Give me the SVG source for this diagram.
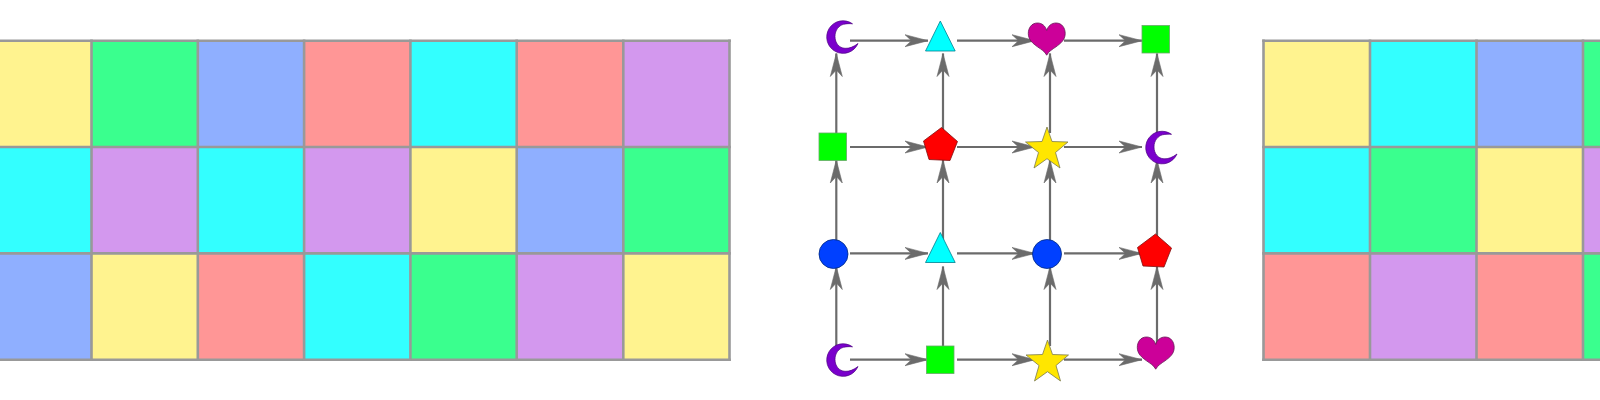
<svg xmlns="http://www.w3.org/2000/svg" width="1600" height="400" viewBox="0 0 1600 400">
<style>
.y{fill:#fff38f}.g{fill:#3aff8e}.b{fill:#8fafff}.r{fill:#ff9696}.c{fill:#33ffff}.p{fill:#d398ee}
.grid line{stroke:#999;stroke-width:2.6;stroke-linecap:square}
.conn line{stroke:#6b6b6b;stroke-width:2.2}
.moon{fill:#7a00cc;stroke:#4a0080;stroke-width:.7}
.tri{fill:#00ffff;stroke:#007f8f;stroke-width:.8}
.heart{fill:#cc0099;stroke:#661a55;stroke-width:.8}
.square{fill:#00ff00;stroke:#66aa66;stroke-width:.8}
.pent{fill:#ff0000;stroke:#801010;stroke-width:.8}
.star{fill:#ffe600;stroke:#7a7a50;stroke-width:.8}
.disc{fill:#0040ff;stroke:#002a80;stroke-width:.8}
</style>
<defs>
<marker id="ah" markerUnits="userSpaceOnUse" markerWidth="24" markerHeight="14" refX="23" refY="6.5" orient="auto" overflow="visible">
<path d="M0 0.5L23 6.5L0 12.5L6.5 6.5Z" fill="#6b6b6b" stroke="#6b6b6b" stroke-width=".6" stroke-linejoin="round"/>
</marker>
<path id="s-moon" class="moon" d="M852.5 23.8A16.3 16.3 0 1 0 858 43.5C853.5 47 849 48.6 845 48.3C839 48 835 43 835 36.5C835 30 839 25.5 843.5 24.3C846.5 23.6 849.5 23.5 852.5 23.8Z"/>
<path id="s-tri" class="tri" d="M940.3 21L955.2 51H925.5Z"/>
<path id="s-heart" class="heart" d="M1046.7 30.5C1045.5 26 1042 23 1037.5 23C1031.5 23 1028.3 28 1028.3 33.5C1028.3 40 1033 43.5 1037.5 46.8C1041 49.3 1045 51.5 1046.7 55.2C1048.5 51.5 1052.5 49.3 1056 46.8C1060.5 43.5 1065.2 40 1065.2 33.5C1065.2 28 1062 23 1056 23C1051.5 23 1048 26 1046.7 30.5Z"/>
<rect id="s-square" class="square" x="819" y="133" width="27.5" height="27.5"/>
<path id="s-pent" class="pent" d="M941.5 127.5L957.5 141.5L950 160.5L929 159.5L923.5 141Z"/>
<path id="s-star" class="star" d="M1047 127L1052 141.5L1068 142L1055.5 152.5L1060 168L1047 158.7L1034 168L1038.5 152.5L1025.5 142L1042 141.5Z"/>
<circle id="s-disc" class="disc" cx="833.5" cy="254" r="14.5"/>
</defs>
<g id="left-grid">
<rect class="y" x="-15" y="40.7" width="106.5" height="106.3"/><rect class="g" x="91.5" y="40.7" width="106.3" height="106.3"/><rect class="b" x="197.8" y="40.7" width="106.3" height="106.3"/><rect class="r" x="304.1" y="40.7" width="106.3" height="106.3"/><rect class="c" x="410.4" y="40.7" width="106.3" height="106.3"/><rect class="r" x="516.7" y="40.7" width="106.6" height="106.3"/><rect class="p" x="623.3" y="40.7" width="106.2" height="106.3"/>
<rect class="c" x="-15" y="147" width="106.5" height="106.4"/><rect class="p" x="91.5" y="147" width="106.3" height="106.4"/><rect class="c" x="197.8" y="147" width="106.3" height="106.4"/><rect class="p" x="304.1" y="147" width="106.3" height="106.4"/><rect class="y" x="410.4" y="147" width="106.3" height="106.4"/><rect class="b" x="516.7" y="147" width="106.6" height="106.4"/><rect class="g" x="623.3" y="147" width="106.2" height="106.4"/>
<rect class="b" x="-15" y="253.4" width="106.5" height="106.3"/><rect class="y" x="91.5" y="253.4" width="106.3" height="106.3"/><rect class="r" x="197.8" y="253.4" width="106.3" height="106.3"/><rect class="c" x="304.1" y="253.4" width="106.3" height="106.3"/><rect class="g" x="410.4" y="253.4" width="106.3" height="106.3"/><rect class="p" x="516.7" y="253.4" width="106.6" height="106.3"/><rect class="y" x="623.3" y="253.4" width="106.2" height="106.3"/>
<g class="grid">
<line x1="0" y1="40.7" x2="729.5" y2="40.7"/><line x1="0" y1="147" x2="729.5" y2="147"/><line x1="0" y1="253.4" x2="729.5" y2="253.4"/><line x1="0" y1="359.7" x2="729.5" y2="359.7"/>
<line x1="91.5" y1="40.7" x2="91.5" y2="359.7"/><line x1="197.8" y1="40.7" x2="197.8" y2="359.7"/><line x1="304.1" y1="40.7" x2="304.1" y2="359.7"/><line x1="410.4" y1="40.7" x2="410.4" y2="359.7"/><line x1="516.7" y1="40.7" x2="516.7" y2="359.7"/><line x1="623.3" y1="40.7" x2="623.3" y2="359.7"/><line x1="729.5" y1="40.7" x2="729.5" y2="359.7"/>
</g>
</g>
<g id="right-grid">
<rect class="y" x="1263.5" y="40.7" width="106.5" height="106.3"/><rect class="c" x="1370" y="40.7" width="106.5" height="106.3"/><rect class="b" x="1476.5" y="40.7" width="106.5" height="106.3"/><rect class="g" x="1583" y="40.7" width="17" height="106.3"/>
<rect class="c" x="1263.5" y="147" width="106.5" height="106.4"/><rect class="g" x="1370" y="147" width="106.5" height="106.4"/><rect class="y" x="1476.5" y="147" width="106.5" height="106.4"/><rect class="p" x="1583" y="147" width="17" height="106.4"/>
<rect class="r" x="1263.5" y="253.4" width="106.5" height="106.3"/><rect class="p" x="1370" y="253.4" width="106.5" height="106.3"/><rect class="r" x="1476.5" y="253.4" width="106.5" height="106.3"/><rect class="g" x="1583" y="253.4" width="17" height="106.3"/>
<g class="grid">
<line x1="1263.5" y1="40.7" x2="1600" y2="40.7"/><line x1="1263.5" y1="147" x2="1600" y2="147"/><line x1="1263.5" y1="253.4" x2="1600" y2="253.4"/><line x1="1263.5" y1="359.7" x2="1600" y2="359.7"/>
<line x1="1263.5" y1="40.7" x2="1263.5" y2="359.7"/><line x1="1370" y1="40.7" x2="1370" y2="359.7"/><line x1="1476.5" y1="40.7" x2="1476.5" y2="359.7"/><line x1="1583" y1="40.7" x2="1583" y2="359.7"/>
</g>
</g>
<g id="connectors" class="conn">
<line x1="850" y1="40.7" x2="928" y2="40.7" marker-end="url(#ah)"/><line x1="957" y1="40.7" x2="1035" y2="40.7" marker-end="url(#ah)"/><line x1="1064" y1="40.7" x2="1142" y2="40.7" marker-end="url(#ah)"/>
<line x1="850" y1="147" x2="928" y2="147" marker-end="url(#ah)"/><line x1="957" y1="147" x2="1035" y2="147" marker-end="url(#ah)"/><line x1="1064" y1="147" x2="1142" y2="147" marker-end="url(#ah)"/>
<line x1="850" y1="253.4" x2="928" y2="253.4" marker-end="url(#ah)"/><line x1="957" y1="253.4" x2="1035" y2="253.4" marker-end="url(#ah)"/><line x1="1064" y1="253.4" x2="1142" y2="253.4" marker-end="url(#ah)"/>
<line x1="850" y1="359.7" x2="928" y2="359.7" marker-end="url(#ah)"/><line x1="957" y1="359.7" x2="1035" y2="359.7" marker-end="url(#ah)"/><line x1="1064" y1="359.7" x2="1142" y2="359.7" marker-end="url(#ah)"/>
<line x1="836.3" y1="346" x2="836.3" y2="266.5" marker-end="url(#ah)"/><line x1="943" y1="346" x2="943" y2="266.5" marker-end="url(#ah)"/><line x1="1050" y1="346" x2="1050" y2="266.5" marker-end="url(#ah)"/><line x1="1157" y1="346" x2="1157" y2="266.5" marker-end="url(#ah)"/>
<line x1="836.3" y1="240" x2="836.3" y2="160" marker-end="url(#ah)"/><line x1="943" y1="240" x2="943" y2="160" marker-end="url(#ah)"/><line x1="1050" y1="240" x2="1050" y2="160" marker-end="url(#ah)"/><line x1="1157" y1="240" x2="1157" y2="160" marker-end="url(#ah)"/>
<line x1="836.3" y1="133" x2="836.3" y2="53.5" marker-end="url(#ah)"/><line x1="943" y1="133" x2="943" y2="53.5" marker-end="url(#ah)"/><line x1="1050" y1="133" x2="1050" y2="53.5" marker-end="url(#ah)"/><line x1="1157" y1="133" x2="1157" y2="53.5" marker-end="url(#ah)"/>
</g>
<g id="n-r1c1"><use href="#s-moon"/></g>
<g id="n-r1c2"><use href="#s-tri"/></g>
<g id="n-r1c3"><use href="#s-heart"/></g>
<g id="n-r1c4"><use href="#s-square" transform="translate(323,-107.5)"/></g>
<g id="n-r2c1"><use href="#s-square"/></g>
<g id="n-r2c2"><use href="#s-pent"/></g>
<g id="n-r2c3"><use href="#s-star"/></g>
<g id="n-r2c4"><use href="#s-moon" transform="translate(319,110.5)"/></g>
<g id="n-r3c1"><use href="#s-disc"/></g>
<g id="n-r3c2"><use href="#s-tri" transform="translate(0,211.5)"/></g>
<g id="n-r3c3"><use href="#s-disc" transform="translate(213.5,0)"/></g>
<g id="n-r3c4"><use href="#s-pent" transform="translate(214,106.5)"/></g>
<g id="n-r4c1"><use href="#s-moon" transform="translate(0,323)"/></g>
<g id="n-r4c2"><use href="#s-square" transform="translate(107.5,213)"/></g>
<g id="n-r4c3"><use href="#s-star" transform="translate(.5,213)"/></g>
<g id="n-r4c4"><use href="#s-heart" transform="translate(109,314)"/></g>
</svg>
